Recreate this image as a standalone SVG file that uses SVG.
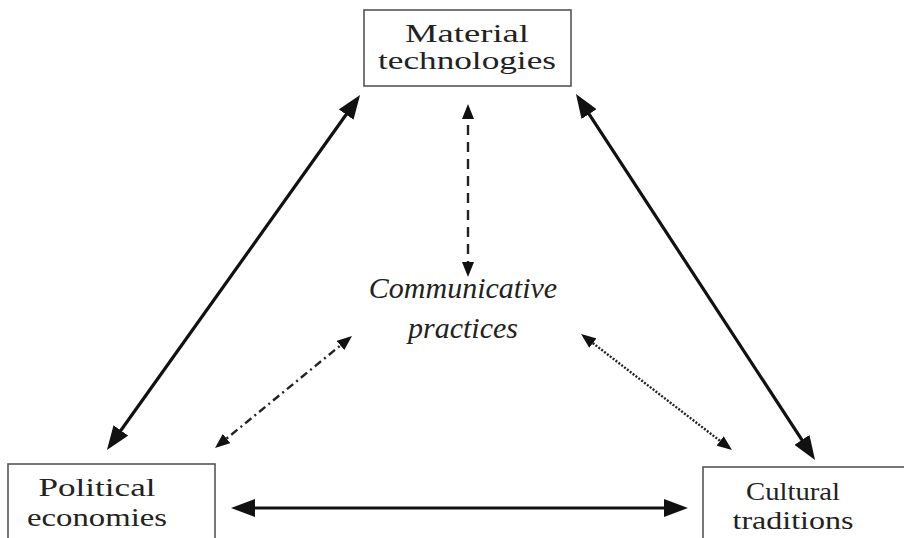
<svg xmlns="http://www.w3.org/2000/svg" width="904" height="538" viewBox="0 0 904 538">
<style>
.box{fill:#fff;stroke:#555;stroke-width:1.6}
.lbl{font-family:"Liberation Serif","Times New Roman",serif;font-size:26px;fill:#222;text-anchor:middle}
.ctr{font-family:"Liberation Serif","Times New Roman",serif;font-size:30px;font-style:italic;fill:#222;text-anchor:middle}
.thick{stroke:#111;stroke-width:3.2;fill:none;marker-start:url(#big);marker-end:url(#big)}
.thin{stroke:#222;stroke-width:2.4;fill:none;marker-start:url(#small);marker-end:url(#small)}
</style>
<defs>
<marker id="big" markerUnits="userSpaceOnUse" markerWidth="24" markerHeight="18" refX="17" refY="9" orient="auto-start-reverse" viewBox="0 0 24 18">
<path d="M0,0 L24,9 L0,18 z" fill="#111"/>
</marker>
<marker id="small" markerUnits="userSpaceOnUse" markerWidth="15" markerHeight="12" refX="11" refY="6" orient="auto-start-reverse" viewBox="0 0 15 12">
<path d="M0,0 L15,6 L0,12 z" fill="#111"/>
</marker>
</defs>
<rect width="904" height="538" fill="#fff"/>
<g id="connectors">
<line class="thick" x1="356" y1="100.7" x2="111" y2="444.3"/>
<line class="thick" x1="579.8" y1="99.9" x2="811.2" y2="454.1"/>
<line class="thick" x1="238" y1="508" x2="681" y2="508"/>
<line class="thin" x1="468" y1="108" x2="468" y2="273" stroke-dasharray="10,7"/>
<line class="thin" x1="348.9" y1="338.5" x2="218.1" y2="445.5" stroke-dasharray="8,4,2,4"/>
<line class="thin" x1="584.2" y1="336.4" x2="728.8" y2="447.6" stroke-width="2" stroke-dasharray="2,1.6"/>
</g>
<g id="material">
<rect class="box" x="364" y="10" width="207" height="76"/>
<text class="lbl" x="467" y="42" textLength="124" lengthAdjust="spacingAndGlyphs">Material</text>
<text class="lbl" x="467" y="69" textLength="178" lengthAdjust="spacingAndGlyphs">technologies</text>
</g>
<g id="political">
<rect class="box" x="8" y="464" width="207" height="90"/>
<text class="lbl" x="97" y="496" textLength="117" lengthAdjust="spacingAndGlyphs">Political</text>
<text class="lbl" x="97" y="526" textLength="140" lengthAdjust="spacingAndGlyphs">economies</text>
</g>
<g id="cultural">
<rect class="box" x="703" y="467" width="220" height="90"/>
<text class="lbl" x="793" y="500" textLength="94" lengthAdjust="spacingAndGlyphs">Cultural</text>
<text class="lbl" x="793" y="529" textLength="121" lengthAdjust="spacingAndGlyphs">traditions</text>
</g>
<g id="communicative">
<text class="ctr" x="463" y="298">Communicative</text>
<text class="ctr" x="463" y="338">practices</text>
</g>
</svg>
